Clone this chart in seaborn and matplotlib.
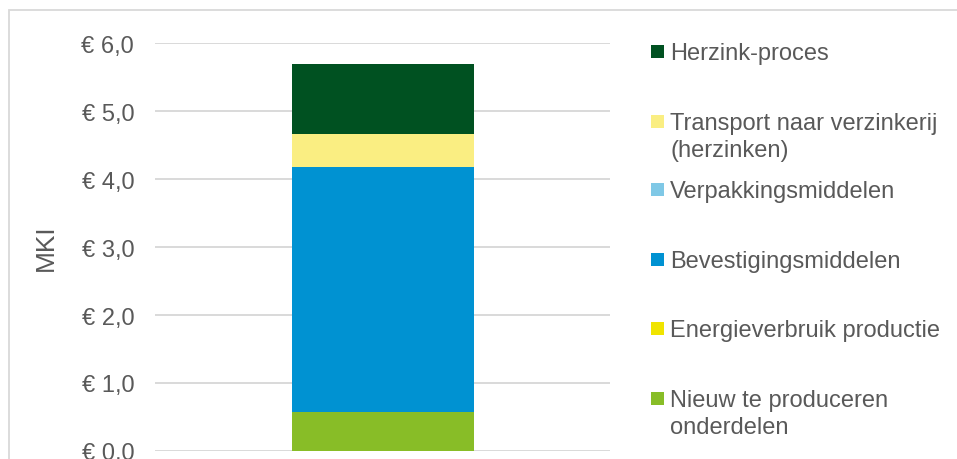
import matplotlib
matplotlib.use("Agg")
import matplotlib.pyplot as plt
import matplotlib.patches as mpatches
import seaborn as sns
import pandas as pd
import numpy as np

# Data (bottom to top of the stack)
components = ["Nieuw te produceren\nonderdelen", "Energieverbruik productie",
              "Bevestigingsmiddelen", "Verpakkingsmiddelen",
              "Transport naar verzinkerij\n(herzinken)", "Herzink-proces"]
values = [0.57, 0.005, 3.60, 0.005, 0.48, 1.03]
colors = ["#88BD27", "#F0E400", "#0092D2", "#7FC8E6", "#FAEE82", "#005121"]
yticks = [0, 1, 2, 3, 4, 5, 6]
ytick_labels = ["€ 0,0", "€ 1,0", "€ 2,0", "€ 3,0", "€ 4,0", "€ 5,0", "€ 6,0"]
ylabel = "MKI"

sns.set_theme(style="white")
plt.rcParams["font.family"] = ["Liberation Sans", "DejaVu Sans"]
TXT = "#595959"
GRID = "#D9D9D9"

W, H = 957, 460
fig = plt.figure(figsize=(W / 100, H / 100), dpi=100)
ax = fig.add_axes([155 / W, 8 / H, (610 - 155) / W, (452 - 44) / H])

cum = np.cumsum(values)
df = pd.DataFrame({"cat": [""] * len(values), "cum": cum, "comp": components})
# draw from top of stack down so lower segments overlay
for i in range(len(values) - 1, -1, -1):
    sns.barplot(data=df.iloc[[i]], x="cat", y="cum", color=colors[i],
                width=0.40, saturation=1, ax=ax, zorder=3, edgecolor="none",
                linewidth=0)

ax.set_xlim(-0.5, 0.5)
ax.set_ylim(0, 6)
ax.set_yticks(yticks)
ax.set_yticklabels(ytick_labels, fontsize=17, color=TXT)
ax.set_xticks([])
ax.set_xlabel("")
ax.set_ylabel(ylabel, fontsize=19, color=TXT, labelpad=12)
ax.tick_params(axis="y", length=0, pad=15)
ax.yaxis.grid(True, color=GRID, linewidth=1.4)
ax.set_axisbelow(True)
for s in ax.spines.values():
    s.set_visible(False)
ax.yaxis.set_label_coords(-(155 - 58) / (610 - 155), (452 - 248) / (452 - 44))

# Outer chart border
fig.patches.append(mpatches.Rectangle((9 / W, -0.2), 1.5, (H - 11) / H + 0.2,
                                      transform=fig.transFigure, fill=False,
                                      edgecolor=GRID, linewidth=1.3))

# Legend (top to bottom)
baselines = [60, 130, 198, 268, 337, 407]
line_step = 27
leg_order = list(range(len(values) - 1, -1, -1))
for b, i in zip(baselines, leg_order):
    fig.patches.append(mpatches.Rectangle((651 / W, 1 - (b - 1) / H), 13 / W, 13 / H,
                                          transform=fig.transFigure,
                                          facecolor=colors[i], edgecolor="none"))
    for k, line in enumerate(components[i].split("\n")):
        fig.text(670 / W, 1 - (b + k * line_step) / H, line, fontsize=17,
                 color=TXT, ha="left", va="baseline")

fig.savefig("out.png", dpi=100)
